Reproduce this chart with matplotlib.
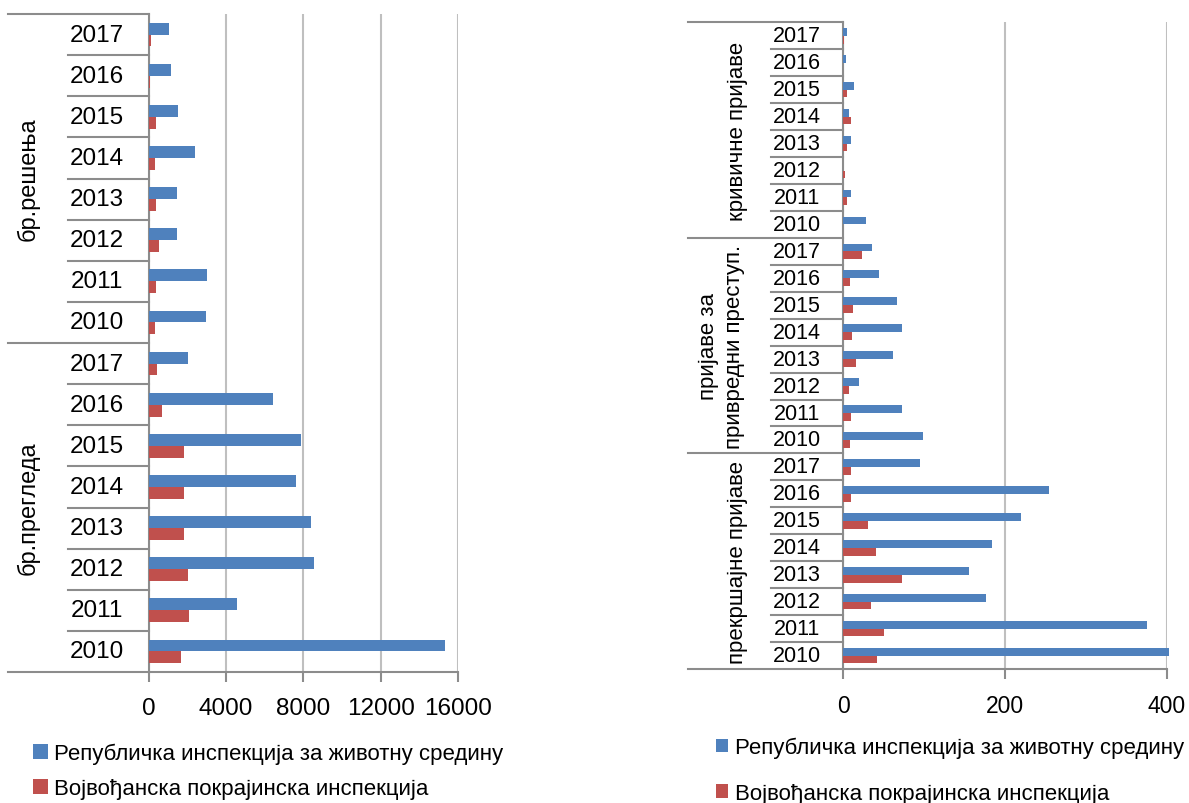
import matplotlib
matplotlib.use("Agg")
import matplotlib.pyplot as plt
import matplotlib.transforms as mtransforms
import numpy as np

plt.rcParams['font.family'] = ['Liberation Sans', 'DejaVu Sans']

# ---- data ----
years = ["2010", "2011", "2012", "2013", "2014", "2015", "2016", "2017"]
series_names = ["Републичка инспекција за животну средину",
                "Војвођанска покрајинска инспекција"]

# left chart: groups from bottom to top
left_groups = ["бр.прегледа", "бр.решења"]
rep_pregledi = [15310, 4570, 8560, 8390, 7620, 7880, 6450, 2020]
voj_pregledi = [1680, 2080, 2020, 1850, 1820, 1830, 680, 460]
rep_resenja = [2990, 3020, 1450, 1450, 2420, 1520, 1150, 1070]
voj_resenja = [350, 400, 560, 400, 340, 400, 90, 130]

# right chart: groups from bottom to top
right_groups = ["прекршајне пријаве", "пријаве за\nпривредни преступ.", "кривичне пријаве"]
rep_prekrsajne = [403, 376, 177, 155, 184, 220, 254, 95]
voj_prekrsajne = [42, 50, 34, 73, 40, 30, 9, 9]
rep_privredni = [98, 72, 20, 61, 72, 66, 44, 36]
voj_privredni = [8, 10, 7, 16, 11, 12, 8, 23]
rep_krivicne = [28, 10, 0, 9, 7, 13, 3, 5]
voj_krivicne = [0, 4, 2, 4, 9, 4, 0, 1]

BLUE = "#4F81BD"
RED = "#C0504D"
GRID = "#BFBFBF"
LINE = "#8C8C8C"

W, H = 1189, 804
fig = plt.figure(figsize=(W / 100, H / 100), dpi=100)


def draw_panel(rect, groups, rep, voj, xmax, xticks, year_x, group_x,
               group_line_x, year_line_x, year_fs, group_fs, tick_fs):
    ax = fig.add_axes(rect)
    n = len(rep)
    y = np.arange(n)
    h = 0.29
    b1 = ax.barh(y + h / 2, rep, height=h, color=BLUE, clip_on=False, zorder=3)
    b2 = ax.barh(y - h / 2, voj, height=h, color=RED, clip_on=False, zorder=3)
    ax.set_ylim(-0.5, n - 0.5)
    ax.set_xlim(0, xmax)
    ax.set_xticks(xticks)
    ax.set_yticks([])
    ax.grid(axis='x', color=GRID, lw=1.5)
    ax.set_axisbelow(True)
    for s in ["top", "right"]:
        ax.spines[s].set_visible(False)
    for s in ["left", "bottom"]:
        ax.spines[s].set_color(LINE)
        ax.spines[s].set_linewidth(1.5)
    ax.tick_params(axis='x', length=7, width=1.5, color=LINE,
                   labelsize=tick_fs, pad=11)

    axis_left = rect[0]
    trans = mtransforms.blended_transform_factory(fig.transFigure, ax.transData)
    for i in range(n):
        ax.text(year_x / W, i, years[i % 8], transform=trans,
                ha='center', va='center', fontsize=year_fs)
    for k in range(n + 1):
        start = group_line_x if k % 8 == 0 else year_line_x
        ax.plot([start / W, axis_left], [k - 0.5, k - 0.5], transform=trans,
                clip_on=False, color=LINE, lw=1.5)
    for g, name in enumerate(groups):
        gx = group_x[g] if isinstance(group_x, list) else group_x
        ax.text(gx / W, g * 8 + 3.5, name, transform=trans, rotation=90,
                ha='center', va='center', fontsize=group_fs, linespacing=1.3)
    return ax, b1, b2


# left panel
left_rep = rep_pregledi + rep_resenja
left_voj = voj_pregledi + voj_resenja
axl, lb1, lb2 = draw_panel([148.5 / W, 1 - 673 / H, 309.8 / W, 658 / H],
                           left_groups, left_rep, left_voj, 16000,
                           [0, 4000, 8000, 12000, 16000],
                           97, 28, 8, 68, 17.5, 17, 17.5)

# right panel
right_rep = rep_prekrsajne + rep_privredni + rep_krivicne
right_voj = voj_prekrsajne + voj_privredni + voj_krivicne
axr, rb1, rb2 = draw_panel([843.3 / W, 1 - 670 / H, 323.4 / W, 646.7 / H],
                           right_groups, right_rep, right_voj, 400,
                           [0, 200, 400],
                           797, [737, 721.5, 737], 688, 771, 15.5, 16, 16.5)

# legends
fig.legend([lb1, lb2], series_names, loc='upper left',
           bbox_to_anchor=(33 / W, 1 - 744 / H), frameon=False,
           fontsize=16, handlelength=0.68, handleheight=0.68,
           handletextpad=0.25, labelspacing=0.62, borderpad=0, borderaxespad=0)
fig.legend([rb1, rb2], series_names, loc='upper left',
           bbox_to_anchor=(716 / W, 1 - 738 / H), frameon=False,
           fontsize=16, handlelength=0.55, handleheight=0.55,
           handletextpad=0.3, labelspacing=1.1, borderpad=0, borderaxespad=0)

fig.savefig("out.png", dpi=100)
